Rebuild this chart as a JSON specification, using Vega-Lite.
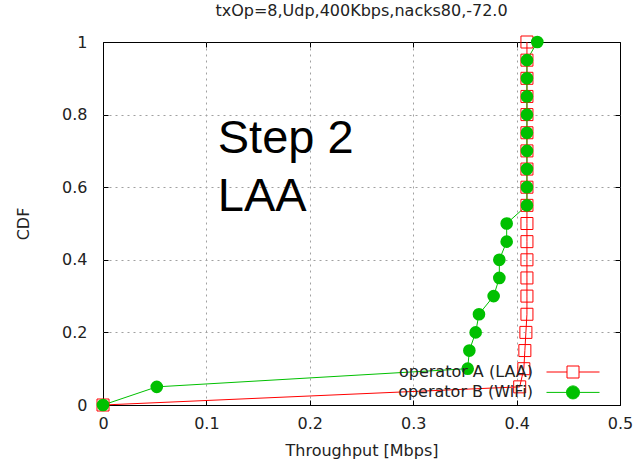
{
  "$schema": "https://vega.github.io/schema/vega-lite/v6.json",
  "width": 517,
  "height": 363,
  "autosize": "none",
  "padding": {"left": 103, "top": 42, "right": 15, "bottom": 59},
  "background": "white",
  "title": {"text": "txOp=8,Udp,400Kbps,nacks80,-72.0", "font": "DejaVu Sans", "fontSize": 16, "fontWeight": "normal", "color": "#222", "anchor": "middle", "offset": 15},
  "config": {"view": {"stroke": "#000", "strokeWidth": 1}, "font": "DejaVu Sans"},
  "datasets": {
    "cdf": [
      {"series": "operator A (LAA)", "throughput": 0.0, "cdf": 0.0},
      {"series": "operator A (LAA)", "throughput": 0.403, "cdf": 0.05},
      {"series": "operator A (LAA)", "throughput": 0.407, "cdf": 0.1},
      {"series": "operator A (LAA)", "throughput": 0.408, "cdf": 0.15},
      {"series": "operator A (LAA)", "throughput": 0.409, "cdf": 0.2},
      {"series": "operator A (LAA)", "throughput": 0.41, "cdf": 0.25},
      {"series": "operator A (LAA)", "throughput": 0.41, "cdf": 0.3},
      {"series": "operator A (LAA)", "throughput": 0.41, "cdf": 0.35},
      {"series": "operator A (LAA)", "throughput": 0.41, "cdf": 0.4},
      {"series": "operator A (LAA)", "throughput": 0.41, "cdf": 0.45},
      {"series": "operator A (LAA)", "throughput": 0.41, "cdf": 0.5},
      {"series": "operator A (LAA)", "throughput": 0.41, "cdf": 0.55},
      {"series": "operator A (LAA)", "throughput": 0.41, "cdf": 0.6},
      {"series": "operator A (LAA)", "throughput": 0.41, "cdf": 0.65},
      {"series": "operator A (LAA)", "throughput": 0.41, "cdf": 0.7},
      {"series": "operator A (LAA)", "throughput": 0.41, "cdf": 0.75},
      {"series": "operator A (LAA)", "throughput": 0.41, "cdf": 0.8},
      {"series": "operator A (LAA)", "throughput": 0.41, "cdf": 0.85},
      {"series": "operator A (LAA)", "throughput": 0.41, "cdf": 0.9},
      {"series": "operator A (LAA)", "throughput": 0.41, "cdf": 0.95},
      {"series": "operator A (LAA)", "throughput": 0.41, "cdf": 1.0},
      {"series": "operator B (WiFi)", "throughput": 0.0, "cdf": 0.0},
      {"series": "operator B (WiFi)", "throughput": 0.052, "cdf": 0.05},
      {"series": "operator B (WiFi)", "throughput": 0.3527, "cdf": 0.1},
      {"series": "operator B (WiFi)", "throughput": 0.3543, "cdf": 0.15},
      {"series": "operator B (WiFi)", "throughput": 0.3604, "cdf": 0.2},
      {"series": "operator B (WiFi)", "throughput": 0.3636, "cdf": 0.25},
      {"series": "operator B (WiFi)", "throughput": 0.3778, "cdf": 0.3},
      {"series": "operator B (WiFi)", "throughput": 0.3833, "cdf": 0.35},
      {"series": "operator B (WiFi)", "throughput": 0.3833, "cdf": 0.4},
      {"series": "operator B (WiFi)", "throughput": 0.3904, "cdf": 0.45},
      {"series": "operator B (WiFi)", "throughput": 0.3904, "cdf": 0.5},
      {"series": "operator B (WiFi)", "throughput": 0.41, "cdf": 0.55},
      {"series": "operator B (WiFi)", "throughput": 0.41, "cdf": 0.6},
      {"series": "operator B (WiFi)", "throughput": 0.41, "cdf": 0.65},
      {"series": "operator B (WiFi)", "throughput": 0.41, "cdf": 0.7},
      {"series": "operator B (WiFi)", "throughput": 0.41, "cdf": 0.75},
      {"series": "operator B (WiFi)", "throughput": 0.41, "cdf": 0.8},
      {"series": "operator B (WiFi)", "throughput": 0.41, "cdf": 0.85},
      {"series": "operator B (WiFi)", "throughput": 0.41, "cdf": 0.9},
      {"series": "operator B (WiFi)", "throughput": 0.41, "cdf": 0.95},
      {"series": "operator B (WiFi)", "throughput": 0.42, "cdf": 1.0}
    ]
  },
  "data": {"name": "cdf"},
  "resolve": {"axis": {"x": "independent", "y": "independent"}},
  "layer": [
    {
      "mark": {"type": "line", "strokeWidth": 1},
      "encoding": {
        "x": {"field": "throughput", "type": "quantitative", "scale": {"domain": [0, 0.5], "nice": false},
          "axis": {"orient": "bottom", "values": [0, 0.1, 0.2, 0.3, 0.4, 0.5], "format": "~g", "grid": true, "gridColor": "#a0a0a0", "gridDash": [2, 4], "gridWidth": 1,
            "gridOpacity": {"condition": {"test": "datum.value <= 0 || datum.value >= 0.5", "value": 0}, "value": 1},
            "domain": false, "tickSize": -5, "tickColor": "#000", "labelFlush": false, "labelFont": "DejaVu Sans", "labelFontSize": 16, "labelColor": "#222", "labelPadding": 15,
            "title": "Throughput [Mbps]", "titleFont": "DejaVu Sans", "titleFontSize": 16, "titleFontWeight": "normal", "titleColor": "#222", "titlePadding": 11}},
        "y": {"field": "cdf", "type": "quantitative", "scale": {"domain": [0, 1], "nice": false},
          "axis": {"orient": "left", "values": [0, 0.2, 0.4, 0.6, 0.8, 1], "format": "~g", "grid": true, "gridColor": "#a0a0a0", "gridDash": [2, 4], "gridWidth": 1,
            "gridOpacity": {"condition": {"test": "datum.value <= 0 || datum.value >= 1", "value": 0}, "value": 1},
            "domain": false, "tickSize": -5, "tickColor": "#000", "labelFlush": false, "labelFont": "DejaVu Sans", "labelFontSize": 16, "labelColor": "#222", "labelPadding": 21,
            "title": "CDF", "titleFont": "DejaVu Sans", "titleFontSize": 16, "titleFontWeight": "normal", "titleColor": "#222", "titlePadding": 30}},
        "order": {"field": "cdf", "type": "quantitative"},
        "color": {"field": "series", "type": "nominal",
          "scale": {"domain": ["operator A (LAA)", "operator B (WiFi)"], "range": ["#ff0000", "#00c000"]},
          "legend": {"orient": "none", "legendX": 462, "legendY": 322, "title": null, "padding": 0, "symbolSize": 169,
            "labelFont": "DejaVu Sans", "labelFontSize": 16, "labelColor": "#222", "labelAlign": "right", "labelOffset": -48, "rowPadding": 3.4, "symbolStrokeWidth": 1,
            "encode": {"symbols": {"update": {
              "shape": {"signal": "datum.value === 'operator A (LAA)' ? 'M-4.077,0H-0.923M0.923,0H4.077M-0.923,-0.923H0.923V0.923H-0.923Z' : 'M-4.077,0H4.077M-1,0A1,1,0,1,1,1,0A1,1,0,1,1,-1,0Z'"},
              "fill": {"signal": "datum.value === 'operator A (LAA)' ? 'transparent' : '#00c000'"},
              "stroke": {"signal": "datum.value === 'operator A (LAA)' ? '#ff0000' : '#00c000'"},
              "strokeWidth": {"value": 1},
              "opacity": {"value": 1}}}}}}
      }
    },
    {
      "transform": [{"filter": "datum.series === 'operator A (LAA)'"}],
      "mark": {"type": "point", "shape": "square", "filled": false, "color": "#ff0000", "size": 144, "strokeWidth": 1, "opacity": 1},
      "encoding": {
        "x": {"field": "throughput", "type": "quantitative", "axis": null},
        "y": {"field": "cdf", "type": "quantitative", "axis": null}
      }
    },
    {
      "transform": [{"filter": "datum.series === 'operator B (WiFi)'"}],
      "mark": {"type": "point", "shape": "circle", "filled": true, "color": "#00c000", "size": 160, "opacity": 1},
      "encoding": {
        "x": {"field": "throughput", "type": "quantitative",
          "axis": {"orient": "top", "values": [0, 0.1, 0.2, 0.3, 0.4, 0.5], "grid": false, "domain": false, "labels": false, "title": null, "tickSize": -5, "tickColor": "#000"}},
        "y": {"field": "cdf", "type": "quantitative",
          "axis": {"orient": "right", "values": [0, 0.2, 0.4, 0.6, 0.8, 1], "grid": false, "domain": false, "labels": false, "title": null, "tickSize": -5, "tickColor": "#000"}}
      }
    },
    {
      "data": {"values": [{"note": "Step 2\nLAA"}]},
      "mark": {"type": "text", "font": "Liberation Sans", "fontSize": 47, "align": "left", "baseline": "alphabetic", "lineBreak": "\n", "lineHeight": 58, "color": "#000"},
      "encoding": {
        "x": {"datum": 0.111, "type": "quantitative", "axis": null},
        "y": {"datum": 0.694, "type": "quantitative", "axis": null},
        "text": {"field": "note", "type": "nominal"}
      }
    }
  ]
}
